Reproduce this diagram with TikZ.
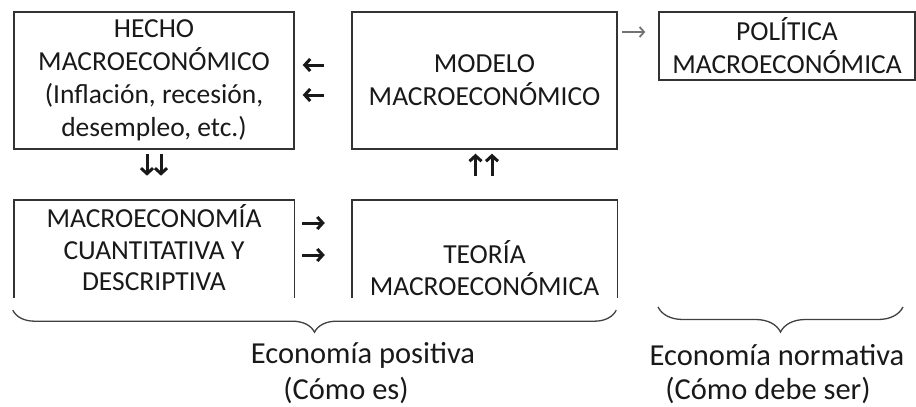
\documentclass[tikz,border=0pt]{standalone}
\usepackage{fontspec}
\setmainfont{Carlito}
\usetikzlibrary{arrows.meta,decorations.pathreplacing,calc}
\begin{document}
\begin{tikzpicture}[x=1pt,y=-1pt,
  boxline/.style={draw=black!80,line width=1.4pt},
  txt/.style={align=center,font=\fontsize{27.5}{33}\selectfont,text=black!90,inner sep=0pt},
  box/.style={boxline,txt},
  openbox/.style={inner sep=0pt},
  arr/.style={-{Straight Barb[length=5.5pt,width=12pt]},line width=3pt,draw=black!90},
  thinarr/.style={-{Straight Barb[length=4.5pt,width=10pt]},line width=1.8pt,draw=black!55},
  brc/.style={decorate,decoration={brace,amplitude=#1,mirror},line width=1.3pt,draw=black!75},
  lbl/.style={font=\fontsize{30.5}{36}\selectfont,text=black!90,inner sep=0pt}]
\useasboundingbox (0,0) rectangle (916,407);

\node[box,minimum width=280pt,minimum height=137pt] (hecho) at (154,80.5)
  {HECHO\\MACROECONÓMICO\\(Inflación, recesión,\\desempleo, etc.)};
\node[box,minimum width=265pt,minimum height=137pt] (modelo) at (484.5,80.5)
  {MODELO\\MACROECONÓMICO};
\node[box,minimum width=256pt,minimum height=68pt] (politica) at (787,46)
  {POLÍTICA\\MACROECONÓMICA};

\node[openbox,minimum width=280pt,minimum height=98pt] (cuanti) at (154,249) {};
\node[openbox,minimum width=265pt,minimum height=98pt] (teoria) at (484.5,249) {};
\draw[boxline] (cuanti.south west) -- (cuanti.north west) -- (cuanti.north east) -- (cuanti.south east);
\draw[boxline] (teoria.south west) -- (teoria.north west) -- (teoria.north east) -- (teoria.south east);
\node[txt,font=\fontsize{27.5}{31.5}\selectfont] (cuantitxt) at (154,248)
  {MACROECONOMÍA\\CUANTITATIVA Y\\DESCRIPTIVA};
\node[txt,font=\fontsize{27.5}{31.5}\selectfont] (teoriatxt) at (484.5,268)
  {TEORÍA\\MACROECONÓMICA};

% arrows
\draw[arr] ($(modelo.west)+(-27,-15.5)$) -- ($(hecho.east)+(8,-15.5)$);
\draw[arr] ($(modelo.west)+(-27,14.5)$) -- ($(hecho.east)+(8,14.5)$);
\draw[arr] ($(cuanti.east)+(8,-26)$) -- ($(teoria.west)+(-27,-26)$);
\draw[arr] ($(cuanti.east)+(8,6)$) -- ($(teoria.west)+(-27,6)$);
\draw[arr] ($(hecho.south)+(-7,4)$) -- ($(hecho.south)+(-7,26)$);
\draw[arr] ($(hecho.south)+(7,4)$) -- ($(hecho.south)+(7,26)$);
\draw[arr] ($(modelo.south)+(-9,26)$) -- ($(modelo.south)+(-9,4)$);
\draw[arr] ($(modelo.south)+(7.5,26)$) -- ($(modelo.south)+(7.5,4)$);
\draw[thinarr] ($(politica.west)+(-36,-14)$) -- ($(politica.west)+(-13,-14)$);

% braces
\coordinate (pl) at ($(cuanti.south west)+(-1,12)$);
\coordinate (pr) at ($(teoria.south east)+(-1,12)$);
\coordinate (nl) at (658,307);
\coordinate (nr) at (903,307);
\draw[brc=22pt] (pl) -- (pr);
\draw[brc=25pt] (nl) -- (nr);

\node[lbl] (pos1) at (363,355) {Economía positiva};
\node[lbl] (pos2) at (346,390) {(Cómo es)};
\node[lbl] (nor1) at (777,355) {Economía normativa};
\node[lbl] (nor2) at (768,390) {(Cómo debe ser)};
\end{tikzpicture}
\end{document}
